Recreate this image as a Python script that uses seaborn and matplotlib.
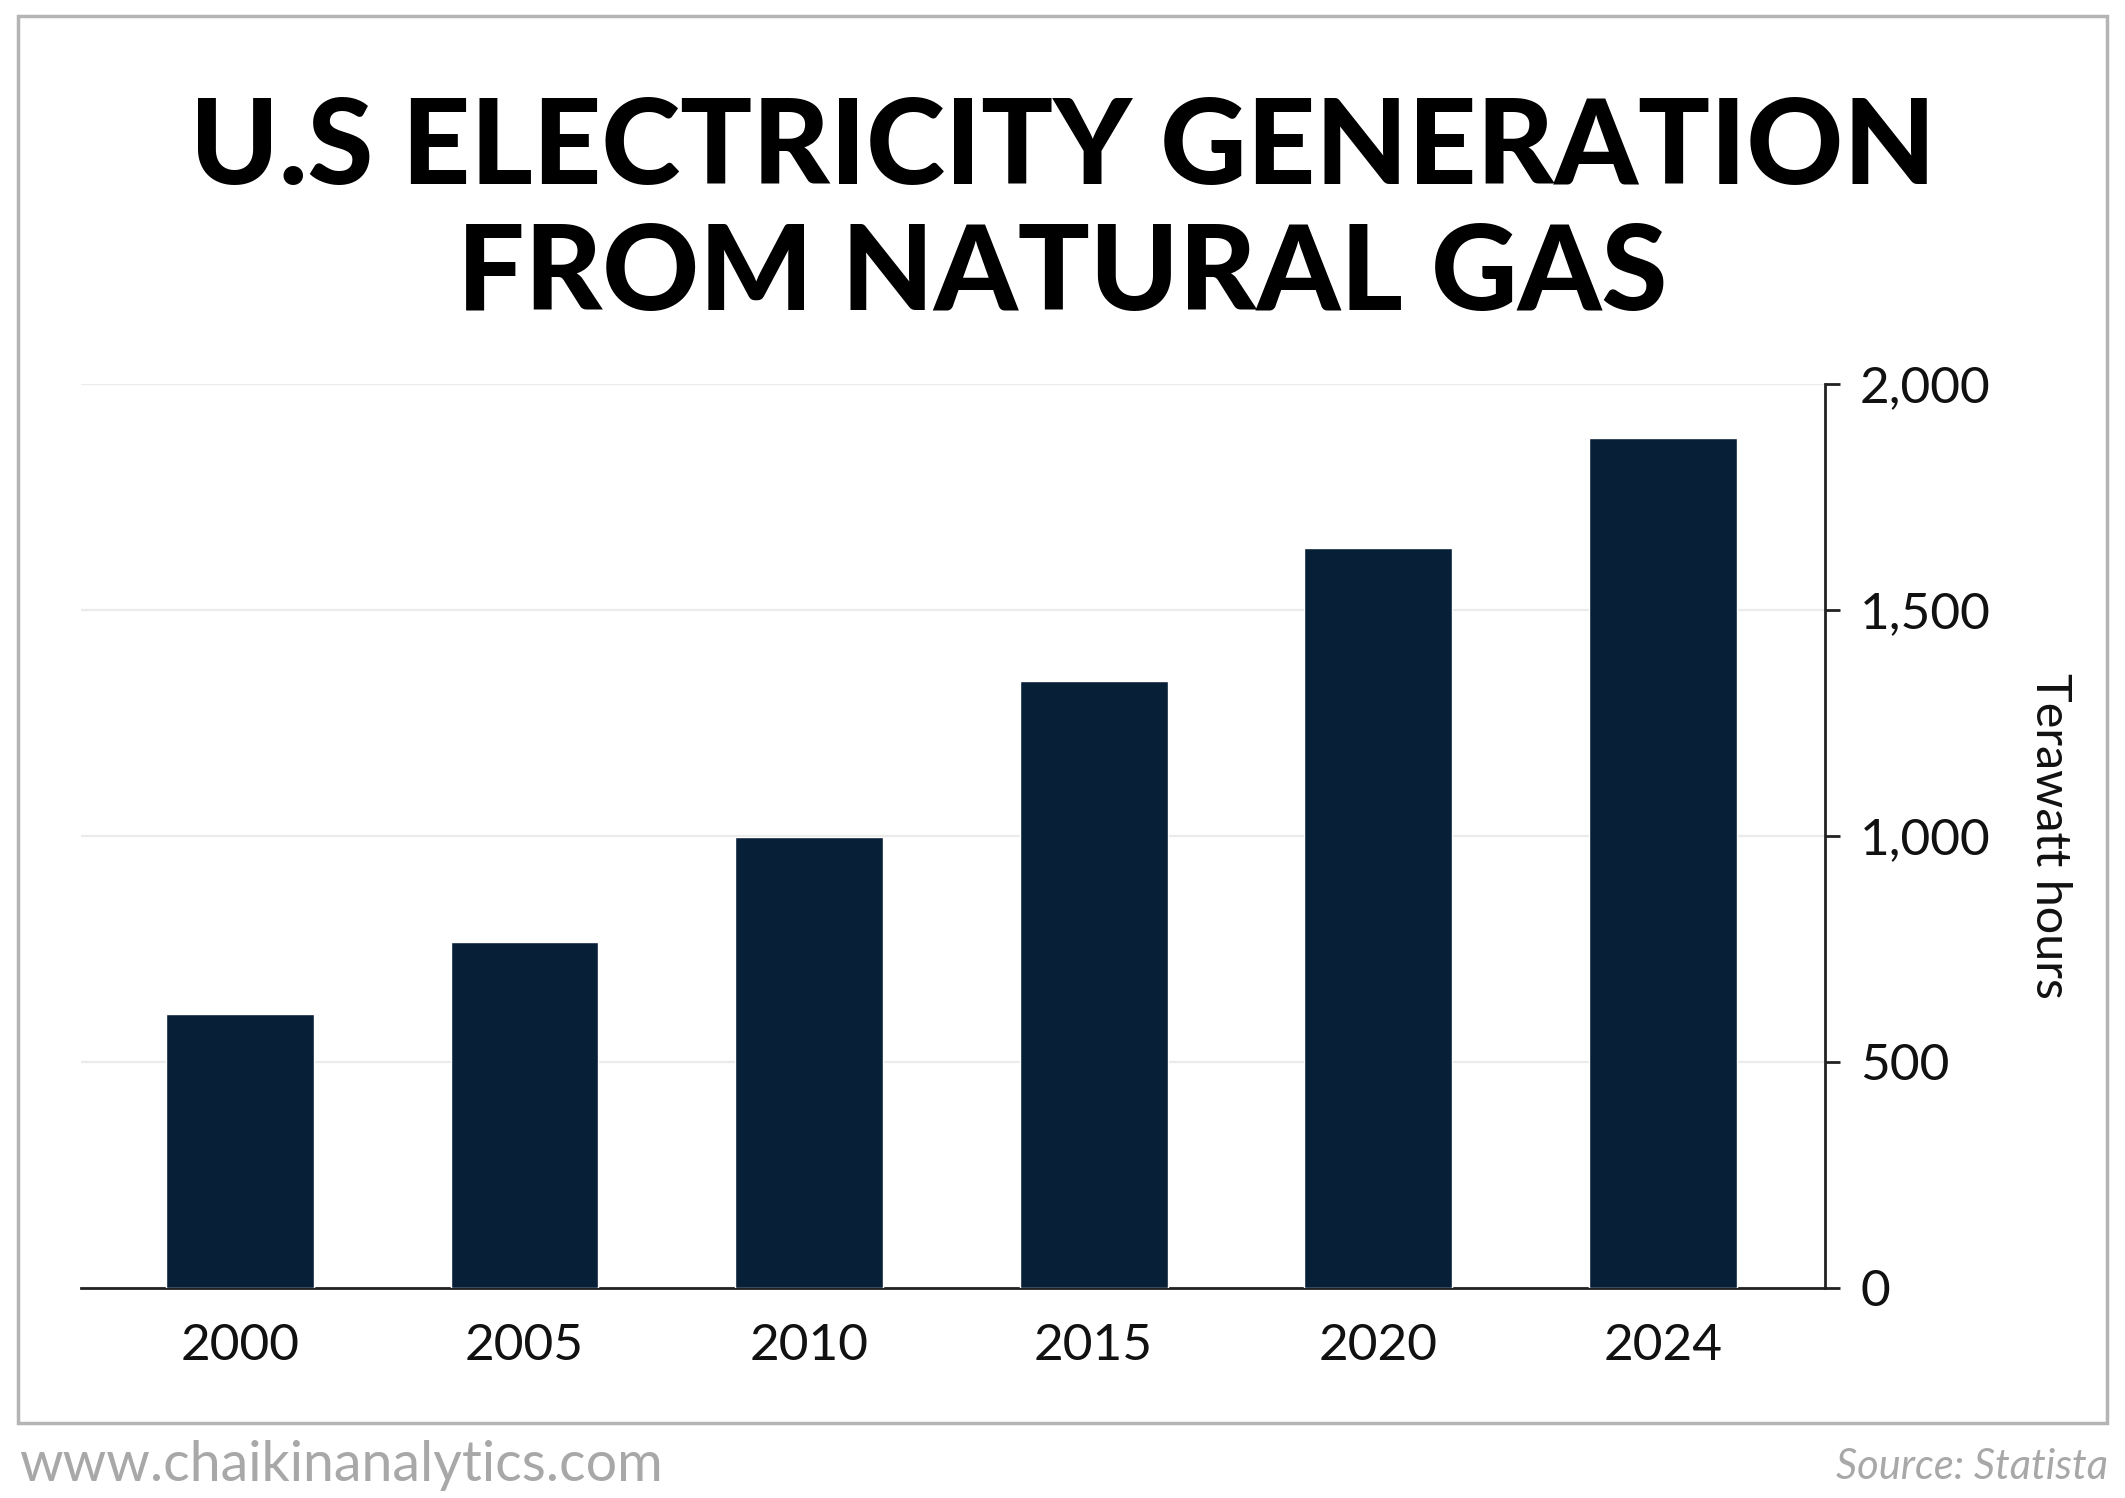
import numpy as np
import pandas as pd
import matplotlib
matplotlib.use("Agg")
import matplotlib.pyplot as plt
from matplotlib.patches import Rectangle
from matplotlib.ticker import FuncFormatter
import seaborn as sns

# values (terawatt hours)
years = ["2000", "2005", "2010", "2015", "2020", "2024"]
generation = [605, 765, 997, 1343, 1637, 1880]
y_ticks = [0, 500, 1000, 1500, 2000]

df = pd.DataFrame({"year": years, "twh": generation})

sns.set_style("white")
plt.rcParams['font.family'] = ['Lato', 'DejaVu Sans']

fig = plt.figure(figsize=(21.25, 14.98), dpi=100)
ax = fig.add_axes([0.0383, 0.1403, 0.8207, 0.6036])

sns.barplot(data=df, x="year", y="twh", color="#081f38", saturation=1,
            width=0.52, ax=ax, zorder=3)

ax.set_xlim(-0.557, 5.571)
ax.set_ylim(0, 2000)
ax.set_yticks(y_ticks)
ax.yaxis.set_major_formatter(FuncFormatter(lambda v, p: f"{int(v):,}"))
ax.yaxis.tick_right()
ax.yaxis.set_label_position("right")
ax.grid(axis="y", color="#ebebeb", lw=1.6, zorder=0)
ax.set_axisbelow(True)

for s in ["top", "left"]:
    ax.spines[s].set_visible(False)
for s in ["bottom", "right"]:
    ax.spines[s].set_color("#222222")
    ax.spines[s].set_linewidth(2)

ax.tick_params(axis="both", direction="out", length=11, width=2, color="#222222",
               labelsize=37, labelcolor="#111111", pad=14)
ax.tick_params(axis="x", pad=14)
ax.set_xlabel("")
ax.set_ylabel("Terawatt hours", rotation=270, fontsize=35, labelpad=58, color="#111111")

# title
fig.text(0.5, 0.9, "U.S ELECTRICITY GENERATION", ha="center", va="center",
         fontsize=86, fontweight="black", color="black")
fig.text(0.5, 0.816, "FROM NATURAL GAS", ha="center", va="center",
         fontsize=86, fontweight="black", color="black")

# outer frame
fig.patches.append(Rectangle((0.0085, 0.05), 0.983, 0.939, transform=fig.transFigure,
                             fill=False, edgecolor="#b4b4b4", lw=2.5))

fig.text(0.009, 0.022, "www.chaikinanalytics.com", ha="left", va="center",
         fontsize=40, color="#a8a8a8")
fig.text(0.992, 0.021, "Source: Statista", ha="right", va="center",
         fontsize=30, color="#a8a8a8", style="italic")

fig.savefig("out.png", dpi=100)
